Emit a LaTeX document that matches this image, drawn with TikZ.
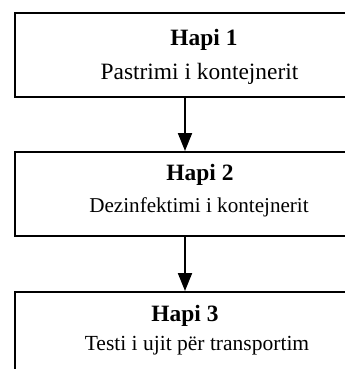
\documentclass[tikz,border=0pt]{standalone}
\usepackage{fontspec}
\setmainfont{Liberation Serif}
\usetikzlibrary{arrows.meta}
\begin{document}
\begin{tikzpicture}[x=1bp,y=-1bp,
 stepbox/.style={draw, line width=2bp, minimum width=372bp, minimum height=84bp, inner sep=0pt, anchor=north west},
 title/.style={font=\fontsize{23.5}{26}\selectfont\bfseries, anchor=base, inner sep=0pt},
 desc/.style={font=\fontsize{22}{26}\selectfont, anchor=base, inner sep=0pt},
 flow/.style={line width=2bp, -{Triangle[length=18bp,width=14bp]}}]
\useasboundingbox (0,0) rectangle (345,369);
\node[stepbox] (b1) at (14,12) {};
\node[stepbox] (b2) at (14,151) {};
\node[stepbox] (b3) at (14,291) {};
\node[title] (t1) at (204,45) {Hapi 1};
\node[desc, font=\fontsize{23.5}{26}\selectfont] (d1) at (199.5,79) {Pastrimi i kontejnerit};
\node[title] (t2) at (200,180) {Hapi 2};
\node[desc, font=\fontsize{21.2}{26}\selectfont] (d2) at (199,212) {Dezinfektimi i kontejnerit};
\node[title] (t3) at (185,321) {Hapi 3};
\node[desc, font=\fontsize{21.6}{26}\selectfont] (d3) at (197,350) {Testi i ujit për transportim};
\coordinate (ax) at (185,0);
\draw[flow] (b1.south -| ax) -- (b2.north -| ax);
\draw[flow] (b2.south -| ax) -- (b3.north -| ax);
\end{tikzpicture}
\end{document}
